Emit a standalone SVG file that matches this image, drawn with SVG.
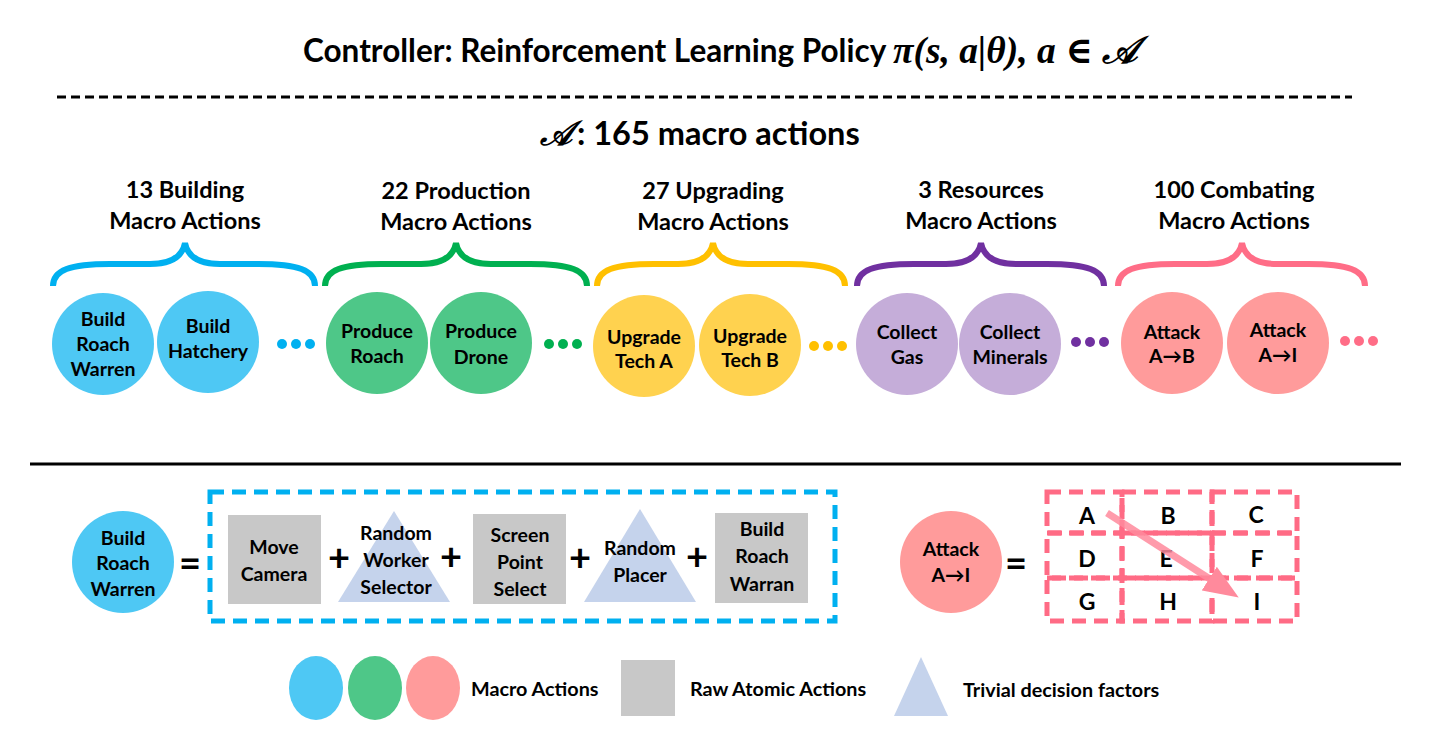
<svg xmlns="http://www.w3.org/2000/svg" width="1431" height="748" viewBox="0 0 1431 748">
<style>
text{font-family:"Lato","Open Sans",sans-serif;font-weight:bold;fill:#000;text-anchor:middle;dominant-baseline:central}
.h{font-size:23.5px}
.c{font-size:19.5px}
.g{font-size:23px}
.brace{fill:none;stroke-width:6;stroke-linecap:butt}
.raw{fill:#C8C8C8}
.tri{fill:#C5D3EC}
.op{font-size:38px}
.cell{fill:none;stroke:#FF6B85;stroke-width:5;stroke-dasharray:14 8}
.leg{font-size:19.8px;text-anchor:start}
.math{font-family:"Liberation Serif","DejaVu Serif",serif;font-style:italic;text-anchor:start}
</style>
<defs>
<marker id="ah" markerWidth="5" markerHeight="4" refX="2.5" refY="2" orient="auto" markerUnits="strokeWidth">
<path d="M0,0 L5,2 L0,4 Z" fill="#FF8A9C"/>
</marker>
</defs>
<rect width="1431" height="748" fill="#fff"/>
<g id="title">
<text x="303" y="50" font-size="31.5" style="text-anchor:start">Controller: Reinforcement Learning Policy</text>
<text class="math" x="893" y="50" font-size="37.5">π(s, a|θ), a ∈ 𝒜</text>
</g>
<line x1="57" y1="97" x2="1352" y2="97" stroke="#000" stroke-width="3" stroke-dasharray="9 5"/>
<g id="subtitle">
<text class="math" x="540" y="133" font-size="34">𝒜</text>
<text x="577" y="132" font-size="32.5" style="text-anchor:start">: 165 macro actions</text>
</g>
<g id="headings">
<text class="h" x="185" y="189">13 Building</text><text class="h" x="185" y="220">Macro Actions</text>
<text class="h" x="456" y="190">22 Production</text><text class="h" x="456" y="221">Macro Actions</text>
<text class="h" x="713" y="190">27 Upgrading</text><text class="h" x="713" y="221">Macro Actions</text>
<text class="h" x="981" y="189">3 Resources</text><text class="h" x="981" y="220">Macro Actions</text>
<text class="h" x="1234" y="189">100 Combating</text><text class="h" x="1234" y="220">Macro Actions</text>
</g>
<g id="braces">
<path class="brace" stroke="#00B0F0" d="M53,286 C53,270 70,264 110,264 L150,264 C170,264 182,258 185,243 C188,258 200,264 220,264 L258,264 C298,264 315,270 315,286"/>
<path class="brace" stroke="#00B050" d="M325,286 C325,270 342,264 382,264 L421,264 C441,264 453,258 456,243 C459,258 471,264 491,264 L530,264 C570,264 587,270 587,286"/>
<path class="brace" stroke="#FFC000" d="M597,286 C597,270 614,264 654,264 L678,264 C698,264 710,258 713,243 C716,258 728,264 748,264 L788,264 C828,264 845,270 845,286"/>
<path class="brace" stroke="#7030A0" d="M857,286 C857,270 874,264 914,264 L946,264 C966,264 978,258 981,243 C984,258 996,264 1016,264 L1047,264 C1087,264 1104,270 1104,286"/>
<path class="brace" stroke="#FF6D87" d="M1118,286 C1118,270 1135,264 1175,264 L1207,264 C1227,264 1239,258 1242,243 C1245,258 1257,264 1277,264 L1308,264 C1348,264 1365,270 1365,286"/>
</g>
<g id="n-build-roach-warren"><circle cx="103" cy="344" r="51" fill="#4EC8F4"/><text class="c" x="103" y="318">Build</text><text class="c" x="103" y="343">Roach</text><text class="c" x="103" y="368">Warren</text></g>
<g id="n-build-hatchery"><circle cx="208" cy="342" r="51" fill="#4EC8F4"/><text class="c" x="208" y="325">Build</text><text class="c" x="208" y="350">Hatchery</text></g>
<g id="dots-blue" fill="#00B0F0"><circle cx="282" cy="344" r="5"/><circle cx="296" cy="344" r="5"/><circle cx="310" cy="344" r="5"/></g>
<g id="n-produce-roach"><circle cx="377" cy="343" r="51" fill="#4EC788"/><text class="c" x="377" y="330">Produce</text><text class="c" x="377" y="355">Roach</text></g>
<g id="n-produce-drone"><circle cx="481" cy="343" r="51" fill="#4EC788"/><text class="c" x="481" y="330">Produce</text><text class="c" x="481" y="356">Drone</text></g>
<g id="dots-green" fill="#00B050"><circle cx="549" cy="344" r="5"/><circle cx="563" cy="344" r="5"/><circle cx="577" cy="344" r="5"/></g>
<g id="n-upgrade-a"><circle cx="644" cy="346" r="51" fill="#FFD24F"/><text class="c" x="644" y="336">Upgrade</text><text class="c" x="644" y="360">Tech A</text></g>
<g id="n-upgrade-b"><circle cx="750" cy="345" r="51" fill="#FFD24F"/><text class="c" x="750" y="335">Upgrade</text><text class="c" x="750" y="359">Tech B</text></g>
<g id="dots-yellow" fill="#FFC000"><circle cx="814" cy="346" r="5"/><circle cx="828" cy="346" r="5"/><circle cx="842" cy="346" r="5"/></g>
<g id="n-collect-gas"><circle cx="907" cy="344" r="51" fill="#C5ADD9"/><text class="c" x="907" y="331">Collect</text><text class="c" x="907" y="356">Gas</text></g>
<g id="n-collect-minerals"><circle cx="1010" cy="344" r="51" fill="#C5ADD9"/><text class="c" x="1010" y="331">Collect</text><text class="c" x="1010" y="356">Minerals</text></g>
<g id="dots-purple" fill="#7030A0"><circle cx="1076" cy="342" r="5"/><circle cx="1090" cy="342" r="5"/><circle cx="1104" cy="342" r="5"/></g>
<g id="n-attack-ab"><circle cx="1172" cy="343" r="51" fill="#FF9B9B"/><text class="c" x="1172" y="331">Attack</text><text class="c" x="1172" y="355">A→B</text></g>
<g id="n-attack-ai"><circle cx="1278" cy="343" r="51" fill="#FF9B9B"/><text class="c" x="1278" y="329">Attack</text><text class="c" x="1278" y="354">A→I</text></g>
<g id="dots-pink" fill="#FF6D87"><circle cx="1345" cy="341" r="5"/><circle cx="1359" cy="341" r="5"/><circle cx="1373" cy="341" r="5"/></g>
<line x1="30" y1="464" x2="1401" y2="464" stroke="#000" stroke-width="3"/>
<g id="n-brw-bottom"><circle cx="123" cy="562" r="51" fill="#4EC8F4"/><text class="c" x="123" y="537">Build</text><text class="c" x="123" y="562">Roach</text><text class="c" x="123" y="588">Warren</text></g>
<text class="op" x="190" y="562">=</text>
<g id="composition">
<rect x="210" y="492" width="625" height="129" fill="none" stroke="#00B0F0" stroke-width="5" stroke-dasharray="14 8"/>
<g id="n-move-camera"><rect class="raw" x="228" y="515" width="93" height="89"/><text class="c" x="274" y="546">Move</text><text class="c" x="274" y="573">Camera</text></g>
<text class="op" x="339" y="556">+</text>
<g id="n-random-worker"><polygon class="tri" points="394,511 450,602 338,602"/><text class="c" x="396" y="532">Random</text><text class="c" x="396" y="559">Worker</text><text class="c" x="396" y="586">Selector</text></g>
<text class="op" x="451" y="555">+</text>
<g id="n-screen-point"><rect class="raw" x="473" y="514" width="93" height="90"/><text class="c" x="520" y="534">Screen</text><text class="c" x="520" y="561">Point</text><text class="c" x="520" y="588">Select</text></g>
<text class="op" x="580" y="556">+</text>
<g id="n-random-placer"><polygon class="tri" points="640,509 696,602 584,602"/><text class="c" x="640" y="547">Random</text><text class="c" x="640" y="574">Placer</text></g>
<text class="op" x="697" y="555">+</text>
<g id="n-build-warran"><rect class="raw" x="715" y="513" width="93" height="90"/><text class="c" x="762" y="528">Build</text><text class="c" x="762" y="555">Roach</text><text class="c" x="762" y="583">Warran</text></g>
</g>
<g id="n-attack-bottom"><circle cx="951" cy="562" r="51" fill="#FF9B9B"/><text class="c" x="951" y="548">Attack</text><text class="c" x="951" y="574">A→I</text></g>
<text class="op" x="1016" y="562">=</text>
<g id="grid">
<rect class="cell" x="1047" y="492" width="75" height="41"/>
<rect class="cell" x="1122" y="492" width="90" height="41"/>
<rect class="cell" x="1212" y="492" width="85" height="41"/>
<rect class="cell" x="1047" y="533" width="75" height="45"/>
<rect class="cell" x="1122" y="533" width="90" height="45"/>
<rect class="cell" x="1212" y="533" width="85" height="45"/>
<rect class="cell" x="1047" y="578" width="75" height="43"/>
<rect class="cell" x="1122" y="578" width="90" height="43"/>
<rect class="cell" x="1212" y="578" width="85" height="43"/>
<text class="g" x="1087" y="515">A</text><text class="g" x="1168" y="515">B</text><text class="g" x="1256" y="514">C</text>
<text class="g" x="1087" y="558">D</text><text class="g" x="1166" y="558">E</text><text class="g" x="1257" y="558">F</text>
<text class="g" x="1087" y="601">G</text><text class="g" x="1168" y="601">H</text><text class="g" x="1257" y="601">I</text>
</g>
<g id="connectors">
<line x1="1107" y1="513" x2="1224" y2="588" stroke="#FF8A9C" stroke-opacity="0.85" stroke-width="7" marker-end="url(#ah)"/>
</g>
<g id="legend">
<ellipse cx="316" cy="688" rx="27" ry="32" fill="#4EC8F4"/>
<ellipse cx="375" cy="688" rx="27" ry="32" fill="#4EC788"/>
<ellipse cx="433" cy="688" rx="27" ry="32" fill="#FF9B9B"/>
<text class="leg" x="471" y="688">Macro Actions</text>
<rect class="raw" x="621" y="660" width="54" height="56"/>
<text class="leg" x="690" y="688">Raw Atomic Actions</text>
<polygon class="tri" points="921,657 948,716 894,716"/>
<text class="leg" x="963" y="689">Trivial decision factors</text>
</g>
</svg>
